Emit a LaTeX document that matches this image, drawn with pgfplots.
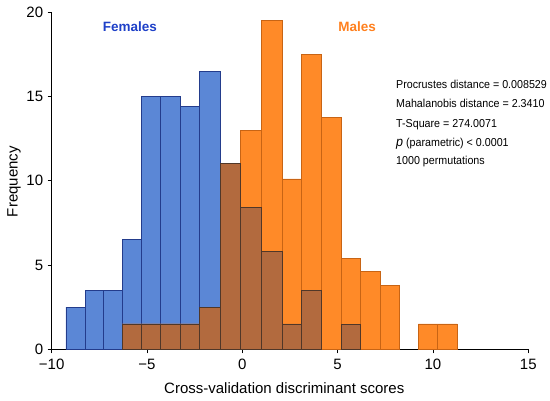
\documentclass[border=0pt]{standalone}
\usepackage{pgfplots}
\pgfplotsset{compat=1.18}
\usepackage{fontspec}
\setmainfont{Liberation Sans}
\definecolor{fblue}{RGB}{91,135,214}
\definecolor{fblueedge}{RGB}{35,60,140}
\definecolor{morange}{RGB}{255,138,40}
\definecolor{morangeedge}{RGB}{200,100,20}
\definecolor{obrown}{RGB}{178,106,62}
\definecolor{obrownedge}{RGB}{80,55,40}
\definecolor{ftext}{RGB}{30,64,200}
\definecolor{mtext}{RGB}{255,128,30}
\newcommand{\ann}[1]{\scalebox{0.93}[1]{\fontsize{11.5}{13}\selectfont #1}}
\begin{document}
\begin{tikzpicture}
\useasboundingbox (-51.7pt,-51.7pt) rectangle (498.3pt,349.3pt);
\begin{axis}[
  at={(0pt,0pt)}, anchor=south west,
  scale only axis, width=476.6pt, height=337.3pt,
  xmin=-10, xmax=15, ymin=0, ymax=20,
  axis lines=left, axis line style={-, black, line width=0.9pt},
  xtick={-10,-5,0,5,10,15},
  xticklabels={−10,−5,0,5,10,15},
  ytick={0,5,10,15,20},
  tick align=outside, major tick length=4pt,
  tick style={black, line width=0.8pt},
  /pgf/number format/assume math mode=true,
  tick label style={font=\fontsize{15}{18}\selectfont},
  xticklabel style={yshift=-2pt},
  yticklabel style={xshift=-1pt},
  xlabel={Cross-validation discriminant scores},
  ylabel={Frequency},
  xlabel style={font=\fontsize{15}{18}\selectfont, at={(axis description cs:0.488,-0.116)}, anchor=center},
  ylabel style={font=\fontsize{15}{18}\selectfont, at={(axis description cs:-0.079,0.497)}, anchor=center, rotate=0},
  clip=false,
]
% Females
\addplot[ybar interval, fill=fblue, draw=fblueedge, line width=0.6pt] coordinates {
(-9.25,2.5) (-8.25,3.5) (-7.29,3.5) (-6.30,6.5) (-5.31,15) (-4.30,15) (-3.23,14.4)
(-2.27,16.5) (-1.17,11) (-0.10,8.4) (1.00,5.8) (2.10,1.5) (3.10,3.5) (4.14,0)};
\addplot[ybar interval, fill=fblue, draw=fblueedge, line width=0.6pt] coordinates {
(5.19,1.5) (6.21,0)};
% Males
\addplot[ybar interval, fill=morange, draw=morangeedge, line width=0.6pt] coordinates {
(-6.30,1.5) (-5.31,1.5) (-4.30,1.5) (-3.23,1.5) (-2.27,2.5) (-1.17,11) (-0.10,13)
(1.00,19.5) (2.10,10.1) (3.10,17.5) (4.14,13.75) (5.19,5.4) (6.21,4.6) (7.24,3.8) (8.24,0)};
\addplot[ybar interval, fill=morange, draw=morangeedge, line width=0.6pt] coordinates {
(9.23,1.5) (10.25,1.5) (11.28,0)};
% Overlap
\addplot[ybar interval, fill=obrown, draw=obrownedge, line width=0.6pt] coordinates {
(-6.30,1.5) (-5.31,1.5) (-4.30,1.5) (-3.23,1.5) (-2.27,2.5) (-1.17,11) (-0.10,8.4)
(1.00,5.8) (2.10,1.5) (3.10,3.5) (4.14,0)};
\addplot[ybar interval, fill=obrown, draw=obrownedge, line width=0.6pt] coordinates {
(5.19,1.5) (6.21,0)};
\node[font=\fontsize{13.5}{16}\selectfont\bfseries, text=ftext] at (axis cs:-5.9,19.15) {Females};
\node[font=\fontsize{13.5}{16}\selectfont\bfseries, text=mtext] at (axis cs:6.02,19.15) {Males};
\begin{scope}[every node/.style={anchor=base west, inner sep=0pt}]
\node at (axis cs:8.06,15.44) {\ann{Procrustes distance = 0.008529}};
\node at (axis cs:8.06,14.31) {\ann{Mahalanobis distance = 2.3410}};
\node at (axis cs:8.06,13.17) {\ann{T-Square = 274.0071}};
\node at (axis cs:8.06,12.02) {\ann{{\fontsize{13.5}{13}\selectfont\itshape p} (parametric) < 0.0001}};
\node at (axis cs:8.06,10.95) {\ann{1000 permutations}};
\end{scope}
\end{axis}
\end{tikzpicture}
\end{document}
